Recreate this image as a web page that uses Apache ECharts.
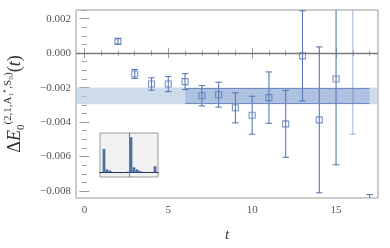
<!DOCTYPE html>
<html><head><meta charset="utf-8">
<script src="https://cdn.jsdelivr.net/npm/echarts@6/dist/echarts.min.js"></script>
<style>html,body{margin:0;padding:0;background:#fff}#c{width:390px;height:248px}</style>
</head><body><div id="c"></div>
<script>
// ---- data ----
const tValues  = [2, 3, 4, 5, 6, 7, 8, 9, 10, 11, 12, 13, 14, 15, 16, 17];
const deltaE   = [0.00068, -0.00121, -0.00179, -0.00179, -0.00165, -0.00247, -0.00241, -0.00317, -0.00360, -0.00258, -0.00410, -0.00016, -0.00387, -0.00150, 0.00300, -0.01200];
const deltaErr = [0.00016, 0.00026, 0.00036, 0.00044, 0.00046, 0.00059, 0.00072, 0.00087, 0.00110, 0.00149, 0.00194, 0.00262, 0.00423, 0.00497, 0.00770, 0.00380];
const fadedT   = [16];
const bandFull = [-0.00297, -0.00199];
const bandFit  = [-0.00292, -0.00204];
const fitRange = [6, 17];
const xTickLabels = [0, 5, 10, 15];
const yTickLabels = [-0.008, -0.006, -0.004, -0.002, 0, 0.002];
const insetBins  = [1, 2, 3, 4, 5, 6, 7, 8, 9, 10, 11, 12, 13, 14, 15, 16, 17, 18];
const insetLeft  = [0.67, 0.09, 0.06, 0.02, 0.012, 0.012, 0.01, 0.01, 0.03];
const insetRight = [1.00, 0.15, 0.09, 0.05, 0.02, 0.02, 0.02, 0.02, 0.18];
const insetDivider = 9.5;

// ---- helpers ----
const xMinor = []; for (let i = 0; i <= 17; i++) xMinor.push(i);
const yMinor = []; for (let i = -16; i <= 5; i++) yMinor.push(i * 0.0005);
const blue = '#5779b6';
const fmtY = v => (Math.abs(v) < 1e-12 ? '0.000' : (v < 0 ? '\u2212' + (-v).toFixed(3) : v.toFixed(3)));
const frameGray = '#9a9a9a';
const labelFont = {fontFamily: 'Liberation Serif', fontSize: 11, color: '#555'};
const mainGrid = {left: 76, right: 12, top: 10, bottom: 50, outerBoundsMode: 'none', containLabel: false};

function tickAxis(type, grid, pos, values, len, labels) {
  const a = {
    type: 'value', gridIndex: grid, position: pos,
    axisLine: {show: false}, splitLine: {show: false},
    axisTick: {show: true, inside: true, length: len, customValues: values, lineStyle: {color: frameGray}},
    axisLabel: labels ? Object.assign({show: true, customValues: labels, margin: 7}, labelFont) : {show: false}
  };
  if (type === 'x') { a.min = -0.5; a.max = 17.5; }
  else { a.min = -0.0084; a.max = 0.0025; }
  return a;
}

const xAxes = [
  tickAxis('x', 0, 'bottom', xTickLabels, 5, xTickLabels),
  tickAxis('x', 0, 'top', xTickLabels, 5, null),
  {type: 'value', gridIndex: 1, min: -0.33, max: 19, show: true,
   axisLine: {show: true, onZero: true, lineStyle: {color: '#222', width: 1}},
   axisTick: {show: false}, axisLabel: {show: false}, splitLine: {show: false}},
  tickAxis('x', 2, 'bottom', xMinor, 2.5, null),
  tickAxis('x', 2, 'top', xMinor, 2.5, null)
];
xAxes[0].axisLabel.formatter = v => String(v);
xAxes[0].name = 't';
xAxes[0].nameLocation = 'middle';
xAxes[0].nameGap = 30;
xAxes[0].nameTextStyle = {fontFamily: 'Liberation Serif', fontStyle: 'italic', fontSize: 15, color: '#333'};

const yAxes = [
  tickAxis('y', 0, 'left', yTickLabels, 5, yTickLabels),
  tickAxis('y', 0, 'right', yTickLabels, 5, null),
  {type: 'value', gridIndex: 1, min: -0.12, max: 1.12, show: false,
   axisLine: {show: false}, splitLine: {show: false}},
  tickAxis('y', 2, 'left', yMinor, 2.5, null),
  tickAxis('y', 2, 'right', yMinor, 2.5, null)
];
yAxes[0].axisLabel.margin = 5;
yAxes[0].axisLabel.formatter = fmtY;
yAxes[0].name = '{d|\u0394}{e|E}{s|0}{p|(2,1,A\u2081\u207A,S\u2080)}{d|(}{e|t}{d|)}';
yAxes[0].nameLocation = 'middle';
yAxes[0].nameRotate = 90;
yAxes[0].nameGap = 48;
yAxes[0].nameTextStyle = {
  color: '#333',
  rich: {
    d: {fontFamily: 'Liberation Serif', fontSize: 18, color: '#333', lineHeight: 26, height: 26, verticalAlign: 'middle'},
    e: {fontFamily: 'Liberation Serif', fontStyle: 'italic', fontSize: 18, color: '#333', lineHeight: 26, height: 26, verticalAlign: 'middle'},
    s: {fontFamily: 'Liberation Serif', fontSize: 11, color: '#333', verticalAlign: 'bottom', height: 13, lineHeight: 13},
    p: {fontFamily: 'Liberation Serif', fontSize: 11, color: '#333', verticalAlign: 'top', height: 13, lineHeight: 13}
  }
};

const errData = tValues.map((t, i) => [t, deltaE[i] - deltaErr[i], deltaE[i] + deltaErr[i], fadedT.indexOf(t) >= 0 ? 0.5 : 1]);
const ptData = tValues.map((t, i) => [t, deltaE[i]]);
const insetData = insetBins.map((b, i) => [b, i < insetLeft.length ? insetLeft[i] : insetRight[i - insetLeft.length]]);

function renderErr(params, api) {
  const x = api.value(0), lo = api.value(1), hi = api.value(2), op = api.value(3);
  const p1 = api.coord([x, hi]), p2 = api.coord([x, lo]);
  const w = 3.2;
  const st = {stroke: blue, lineWidth: 1.1, opacity: op};
  return {type: 'group', children: [
    {type: 'line', shape: {x1: p1[0], y1: p1[1], x2: p2[0], y2: p2[1]}, style: st},
    {type: 'line', shape: {x1: p1[0] - w, y1: p1[1], x2: p1[0] + w, y2: p1[1]}, style: st},
    {type: 'line', shape: {x1: p2[0] - w, y1: p2[1], x2: p2[0] + w, y2: p2[1]}, style: st}
  ]};
}

const chart = echarts.init(document.getElementById('c'), null, {renderer: 'canvas'});
chart.setOption({
  animation: false,
  backgroundColor: '#fff',
  grid: [
    Object.assign({show: true, borderColor: frameGray, borderWidth: 1, backgroundColor: 'transparent'}, mainGrid),
    {left: 100, width: 58, top: 133, height: 44, show: true, borderColor: '#999', borderWidth: 1, backgroundColor: '#f2f2f2', outerBoundsMode: 'none', containLabel: false},
    Object.assign({show: false}, mainGrid)
  ],
  xAxis: xAxes,
  yAxis: yAxes,
  series: [
    {
      type: 'scatter', xAxisIndex: 0, yAxisIndex: 0, data: [], z: 1, silent: true,
      markArea: {silent: true, itemStyle: {color: 'rgba(180,199,228,0.65)'},
        data: [[{yAxis: bandFull[1]}, {yAxis: bandFull[0]}]]}
    },
    {
      type: 'scatter', xAxisIndex: 0, yAxisIndex: 0, data: [], z: 2, silent: true,
      markArea: {silent: true, itemStyle: {color: 'rgba(120,150,205,0.35)'},
        data: [[{xAxis: fitRange[0], yAxis: bandFit[1]}, {xAxis: fitRange[1], yAxis: bandFit[0]}]]},
      markLine: {silent: true, symbol: 'none', label: {show: false},
        lineStyle: {color: '#6d8cc4', width: 1.2, type: 'solid'},
        data: [
          [{coord: [fitRange[0], bandFit[1]]}, {coord: [fitRange[1], bandFit[1]]}],
          [{coord: [fitRange[0], bandFit[0]]}, {coord: [fitRange[1], bandFit[0]]}]
        ]}
    },
    {
      type: 'scatter', xAxisIndex: 0, yAxisIndex: 0, data: [], z: 3, silent: true,
      markLine: {silent: true, symbol: 'none', label: {show: false},
        lineStyle: {color: '#7a7a7a', width: 1.3, type: 'solid'},
        data: [{yAxis: 0}]}
    },
    {
      type: 'custom', xAxisIndex: 0, yAxisIndex: 0, data: errData, renderItem: renderErr, clip: true, z: 4, silent: true,
      encode: {x: 0, y: [1, 2]}
    },
    {
      type: 'scatter', xAxisIndex: 0, yAxisIndex: 0, data: ptData, clip: true, z: 5, silent: true,
      symbol: 'rect', symbolSize: 6,
      itemStyle: {color: 'rgba(255,255,255,0)', borderColor: blue, borderWidth: 1.1}
    },
    {
      type: 'bar', xAxisIndex: 2, yAxisIndex: 2, data: insetData, barWidth: 2.6, silent: true,
      itemStyle: {color: '#4f74b3', borderColor: '#2f4f86', borderWidth: 0.4},
      markLine: {silent: true, symbol: 'none', label: {show: false},
        lineStyle: {color: '#777', width: 1, type: 'solid'},
        data: [[{coord: [insetDivider, -0.12]}, {coord: [insetDivider, 1.12]}]]}
    },
    {
      type: 'scatter', xAxisIndex: 3, yAxisIndex: 3, data: [], silent: true
    }
  ]
});
</script></body></html>
